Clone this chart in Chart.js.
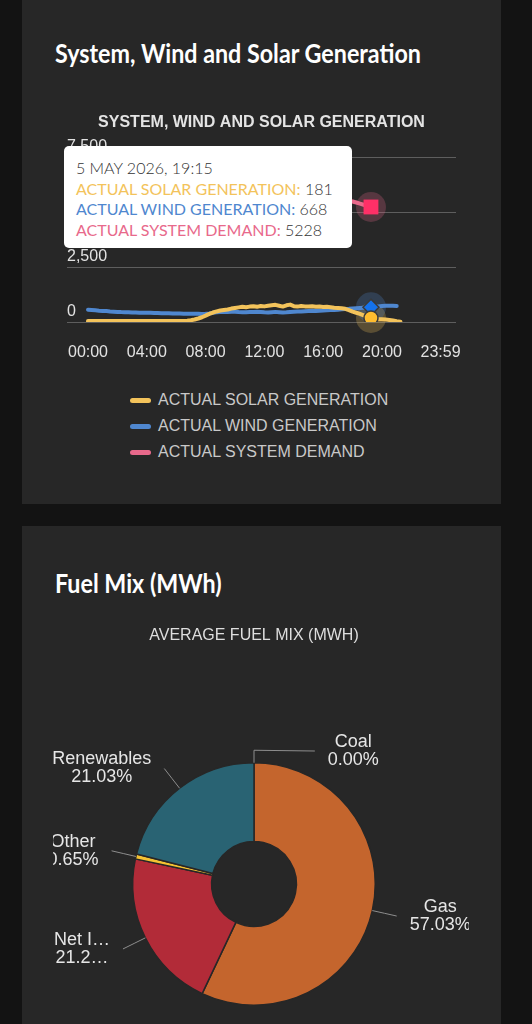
<!DOCTYPE html>
<html>
<head>
<meta charset="utf-8">
<script src="https://cdn.jsdelivr.net/npm/chart.js@4"></script>
<style>
html,body{margin:0;padding:0;background:#131313;width:532px;height:1024px;overflow:hidden;}
.panel{position:absolute;left:22px;width:479px;background:#272727;}
h2{position:absolute;left:55px;margin:0;font-family:Lato,sans-serif;font-weight:700;font-size:27px;line-height:27px;color:#fff;white-space:nowrap;transform-origin:0 0;}
canvas{position:absolute;left:53px;}
.legend{position:absolute;left:130px;top:387px;font-family:'Liberation Sans',Arial,sans-serif;font-size:16px;color:#c9c9c9;}
.legend div{height:26px;display:flex;align-items:center;white-space:nowrap;}
.legend span.m{display:inline-block;width:21px;height:5px;border-radius:3px;margin-right:7px;}
#tip{position:absolute;display:none;background:#fff;border-radius:5px;padding:12px 19px 7px 12px;font-family:Lato,sans-serif;font-size:16px;line-height:20.7px;color:#333;white-space:nowrap;font-weight:300;}
#tip b{font-weight:400;}
</style>
</head>
<body>
<div class="panel" style="top:-20px;height:524px;"></div>
<div class="panel" style="top:526px;height:520px;"></div>
<h2 id="h1" style="top:39px;">System, Wind and Solar Generation</h2>
<h2 id="h2" style="top:569px;">Fuel Mix (MWh)</h2>
<canvas id="c1" width="416" height="270" style="top:100px;"></canvas>
<div class="legend" id="legend"></div>
<canvas id="c2" width="416" height="430" style="top:610px;"></canvas>
<div id="tip"></div>
<script>
// ---------- data ----------
const reportDate = '5 MAY 2026';
const times = [
 '00:00','00:15','00:30','00:45','01:00','01:15','01:30','01:45',
 '02:00','02:15','02:30','02:45','03:00','03:15','03:30','03:45',
 '04:00','04:15','04:30','04:45','05:00','05:15','05:30','05:45',
 '06:00','06:15','06:30','06:45','07:00','07:15','07:30','07:45',
 '08:00','08:15','08:30','08:45','09:00','09:15','09:30','09:45',
 '10:00','10:15','10:30','10:45','11:00','11:15','11:30','11:45',
 '12:00','12:15','12:30','12:45','13:00','13:15','13:30','13:45',
 '14:00','14:15','14:30','14:45','15:00','15:15','15:30','15:45',
 '16:00','16:15','16:30','16:45','17:00','17:15','17:30','17:45',
 '18:00','18:15','18:30','18:45','19:00','19:15','19:30','19:45',
 '20:00','20:15','20:30','20:45','21:00','21:15'
];
const solarGeneration = [
 45,45,44,44, 44,43,43,43, 43,42,42,42, 42,42,42,41,
 41,41,41,41, 41,41,42,42, 43,45,50,60, 80,115,160,215,
 290,370,430,480, 520,545,570,610, 640,665,690,670, 700,720,690,730,
 710,740,760,780, 740,700,760,790, 720,700,730,710, 700,720,690,700,
 680,690,670,650, 640,620,600,540, 470,420,370,300, 230,181,150,130,
 120,110,95,70, 40,15
];
const windGeneration = [
 560,545,530,515, 505,495,480,470, 460,450,445,440, 430,430,425,420,
 415,420,410,405, 400,400,395,390, 390,385,380,380, 375,370,370,365,
 370,390,420,440, 450,455,460,470, 465,450,445,440, 450,460,470,455,
 440,430,445,460, 445,430,440,455, 470,480,475,490, 500,510,505,515,
 525,530,540,550, 560,575,590,600, 615,625,635,645, 655,668,690,710,
 725,735,740,738, 730
];
const systemDemand = [
 4350,4280,4200,4120, 4050,3980,3920,3870, 3830,3790,3760,3740, 3720,3700,3690,3690,
 3700,3710,3730,3760, 3800,3860,3940,4050, 4180,4330,4480,4620, 4760,4880,4980,5060,
 5120,5170,5200,5230, 5250,5260,5270,5280, 5290,5300,5300,5290, 5300,5310,5300,5290,
 5280,5270,5260,5240, 5230,5210,5200,5190, 5180,5170,5180,5190, 5200,5220,5250,5280,
 5320,5360,5400,5440, 5480,5520,5550,5540, 5477,5430,5380,5330, 5280,5228
];
const seriesNames = ['ACTUAL SOLAR GENERATION','ACTUAL WIND GENERATION','ACTUAL SYSTEM DEMAND'];
const xTickLabels = ['00:00','04:00','08:00','12:00','16:00','20:00','23:59'];
const yTickValues = [0, 2500, 5000, 7500];
const hoverTime = '19:15';

const fuelNames = ['Coal','Gas','Net Imports','Other','Renewables'];
const fuelShares = [0.00, 57.03, 21.29, 0.65, 21.03];

// ---------- styles ----------
const seriesColors = ['#F3C35B','#4F87CF','#E8698B'];
const fuelColors = ['#8a8a8a','#C4652D','#B22B38','#F4C232','#296373'];
const FONT = "'Liberation Sans', Arial, Helvetica, sans-serif";
Chart.defaults.font.family = FONT;

const toHours = t => { const p = t.split(':').map(Number); return p[0] + p[1] / 60; };
const pairs = arr => arr.map((v, i) => ({x: toHours(times[i]), y: v}));

// halo behind hovered markers
const haloPlugin = {
  id: 'halo',
  beforeDatasetsDraw(chart) {
    const ctx = chart.ctx;
    chart.getActiveElements().forEach(a => {
      ctx.save();
      ctx.globalAlpha = 0.25;
      ctx.fillStyle = chart.data.datasets[a.datasetIndex].borderColor;
      ctx.beginPath();
      ctx.arc(a.element.x, a.element.y, 15, 0, Math.PI * 2);
      ctx.fill();
      ctx.restore();
    });
  }
};

function externalTip(context) {
  const {chart, tooltip} = context;
  const el = document.getElementById('tip');
  if (tooltip.opacity === 0 || !tooltip.dataPoints || !tooltip.dataPoints.length) { el.style.display = 'none'; return; }
  const pts = tooltip.dataPoints;
  let html = '<div>' + reportDate + ', ' + times[pts[0].dataIndex] + '</div>';
  pts.forEach(p => {
    html += '<div><b style="color:' + seriesColors[p.datasetIndex] + '">' + p.dataset.label + ':</b> ' + p.raw.y + '</div>';
  });
  el.innerHTML = html;
  el.style.display = 'block';
  el.style.left = (chart.canvas.offsetLeft + tooltip.caretX - 19 - el.offsetWidth) + 'px';
  el.style.top = (chart.canvas.offsetTop + chart.chartArea.top - 11) + 'px';
}

const lineChart = new Chart(document.getElementById('c1'), {
  type: 'line',
  data: {
    datasets: [
      {label: seriesNames[0], data: pairs(solarGeneration), borderColor: seriesColors[0], backgroundColor: seriesColors[0],
       pointStyle: 'circle', pointHoverRadius: 7, pointHoverBorderWidth: 1.5, pointHoverBorderColor: '#3a3a3a'},
      {label: seriesNames[1], data: pairs(windGeneration), borderColor: seriesColors[1], backgroundColor: seriesColors[1],
       pointStyle: 'rectRot', pointHoverRadius: 8, pointHoverBorderWidth: 1.5, pointHoverBorderColor: '#3a3a3a'},
      {label: seriesNames[2], data: pairs(systemDemand), borderColor: seriesColors[2], backgroundColor: seriesColors[2],
       pointStyle: 'rect', pointHoverRadius: 10.5, pointHoverBorderWidth: 0}
    ]
  },
  options: {
    responsive: false,
    animation: false,
    events: [],
    layout: {padding: {left: 14, right: 13, top: 0, bottom: 8}},
    elements: {
      line: {borderWidth: 4, tension: 0, borderCapStyle: 'round', borderJoinStyle: 'round'},
      point: {radius: 0}
    },
    plugins: {
      legend: {display: false},
      title: {display: true, text: 'SYSTEM, WIND AND SOLAR GENERATION', color: '#e4e4e4',
              font: {size: 16, weight: 'bold', family: FONT}, padding: {top: 13.4, bottom: 24.4}},
      tooltip: {enabled: false, external: externalTip, mode: 'index', intersect: false}
    },
    scales: {
      x: {
        type: 'linear', min: -1.4286, max: 25.034,
        grid: {display: false, drawTicks: false}, border: {display: false},
        afterBuildTicks: s => { s.ticks = xTickLabels.map(l => ({value: toHours(l)})); },
        afterFit: s => { s.height = 40; s.paddingLeft = 0; s.paddingRight = 0; },
        ticks: {autoSkip: false, maxRotation: 0, padding: 21, color: '#e2e2e2', font: {size: 16},
                callback: (v, i) => xTickLabels[i]}
      },
      y: {
        min: 0, max: 7500,
        afterBuildTicks: s => { s.ticks = yTickValues.map(v => ({value: v})); },
        afterFit: s => { s.width = 0; s.paddingTop = 0; s.paddingBottom = 0; },
        grid: {color: '#5e5e5e', lineWidth: 1, drawTicks: false}, border: {display: false},
        ticks: {mirror: true, padding: 0, labelOffset: -10, color: '#e2e2e2', font: {size: 16},
                callback: v => v.toLocaleString('en-US')}
      }
    }
  },
  plugins: [haloPlugin]
});

// hovered state at the last demand reading
const hoverIndex = times.indexOf(hoverTime);
const activePts = [0, 1, 2].map(d => ({datasetIndex: d, index: hoverIndex}));
lineChart.setActiveElements(activePts);
lineChart.tooltip.setActiveElements(activePts, {x: 0, y: 0});
lineChart.render();

// HTML legend built from the datasets
const legendEl = document.getElementById('legend');
lineChart.data.datasets.forEach(ds => {
  const row = document.createElement('div');
  row.innerHTML = '<span class="m" style="background:' + ds.borderColor + '"></span>' + ds.label;
  legendEl.appendChild(row);
});

// ---------- doughnut with outside labels ----------
function fitText(ctx, s, maxW) {
  if (ctx.measureText(s).width <= maxW) return s;
  let t = s;
  while (t.length && ctx.measureText(t + '\u2026').width > maxW) t = t.slice(0, -1);
  return t + '\u2026';
}
const pieLabels = {
  id: 'pieLabels',
  afterDatasetsDraw(chart) {
    const ctx = chart.ctx;
    const meta = chart.getDatasetMeta(0);
    const ds = chart.data.datasets[0];
    const total = ds.data.reduce((a, b) => a + b, 0);
    const ca = chart.chartArea;
    const D = 25, gap = 13, lh = 18;
    ctx.save();
    ctx.font = '18px ' + FONT;
    meta.data.forEach((arc, i) => {
      const p = arc.getProps(['x', 'y', 'startAngle', 'endAngle', 'outerRadius'], true);
      const a = (p.startAngle + p.endAngle) / 2;
      const cos = Math.cos(a), sin = Math.sin(a), R = p.outerRadius;
      const right = cos >= -1e-9;
      let ly = p.y + (R + D) * sin;
      ly = Math.max(ly, ca.top - 11);
      const dy = ly - p.y;
      const lx = p.x + (right ? 1 : -1) * Math.sqrt(Math.max((R + D) * (R + D) - dy * dy, 0));
      const tx = p.x + R * cos, ty = p.y + R * sin;
      const bx = p.x + (R + D / 2) * cos, by = p.y + (R + D / 2) * sin;
      ctx.strokeStyle = '#8e8e8e';
      ctx.lineWidth = 1;
      ctx.beginPath();
      ctx.moveTo(lx, ly); ctx.lineTo(bx, by); ctx.lineTo(tx, ty);
      ctx.stroke();
      let lines = [chart.data.labels[i], (ds.data[i] / total * 100).toFixed(2) + '%'];
      let w = Math.max(...lines.map(l => ctx.measureText(l).width));
      const edge = right ? lx + gap : lx - gap;
      const overflow = right ? edge + w - chart.width : w - edge;
      if (overflow > 8) {
        const maxW = right ? chart.width - edge : edge;
        lines = lines.map(l => fitText(ctx, l, maxW));
        w = Math.max(...lines.map(l => ctx.measureText(l).width));
      }
      const bcx = right ? edge + w / 2 : edge - w / 2;
      ctx.fillStyle = '#e6e6e6';
      ctx.textAlign = 'center';
      ctx.textBaseline = 'middle';
      lines.forEach((l, k) => ctx.fillText(l, bcx, ly + (k - (lines.length - 1) / 2) * lh));
    });
    ctx.restore();
  }
};

new Chart(document.getElementById('c2'), {
  type: 'doughnut',
  data: {
    labels: fuelNames,
    datasets: [{data: fuelShares, backgroundColor: fuelColors, borderColor: '#272727', borderWidth: 1.5}]
  },
  options: {
    responsive: false,
    animation: false,
    events: [],
    cutout: '35%',
    layout: {padding: {left: 79, right: 93, top: 0, bottom: 34}},
    plugins: {
      legend: {display: false},
      tooltip: {enabled: false},
      title: {display: true, text: 'AVERAGE FUEL MIX (MWH)', color: '#dedede',
              font: {size: 16, weight: 'normal', family: FONT}, padding: {top: 16, bottom: 116.8}}
    }
  },
  plugins: [pieLabels]
});

// condense the headings to the reference width
const h1 = document.getElementById('h1');
const k = 366 / h1.getBoundingClientRect().width;
document.querySelectorAll('h2').forEach(e => { e.style.transform = 'scaleX(' + k + ')'; });
</script>
</body>
</html>
